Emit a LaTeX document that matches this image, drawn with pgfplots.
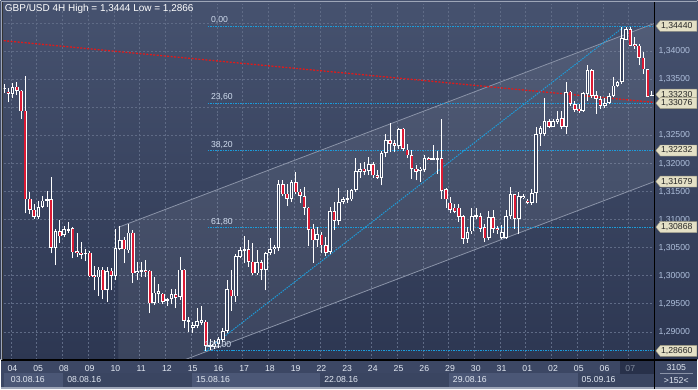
\documentclass[border=0pt]{standalone}
\usepackage{pgfplots}
\pgfplotsset{compat=1.18}
\usepackage{pgfplotstable}
\usepackage{fontspec}
\setmainfont{Liberation Sans}
\definecolor{bgtop}{HTML}{46526F}
\definecolor{bgbot}{HTML}{2D3752}
\definecolor{gridc}{HTML}{5F6B86}
\definecolor{candred}{HTML}{DC1A34}
\definecolor{hollow}{HTML}{38435F}
\definecolor{fibc}{HTML}{1C9CDA}
\definecolor{trendred}{HTML}{E01A1A}
\definecolor{chan}{HTML}{8A93A8}
\definecolor{ticktxt}{HTML}{AFC0DC}
\definecolor{fibtxt}{HTML}{D0DCEE}
\definecolor{striptop}{HTML}{3C4764}
\definecolor{boxlight}{HTML}{4B5776}
\definecolor{boxdark}{HTML}{3A4561}
\definecolor{tagfill}{HTML}{E4E0C6}
\definecolor{tagdraw}{HTML}{9A967E}
\definecolor{datetxt}{HTML}{E2E8F2}
\definecolor{cseven}{HTML}{7D8799}
\definecolor{darkbox}{HTML}{28314A}
\definecolor{topline}{HTML}{9EA6B8}
\newcommand{\fs}{\fontsize{8.7}{10}\selectfont}
\newcommand{\ptag}[2]{%
  \filldraw[fill=tagfill, draw=tagdraw, line width=0.4pt] (656.5,#1) -- (661,{#1+5.5}) -- (697.6,{#1+5.5}) -- (697.6,{#1-5.5}) -- (661,{#1-5.5}) -- cycle;
  \node[anchor=west, inner sep=0pt, font=\fs, text=black!85] at (661.5,#1) {#2};}

\pgfplotstableread{
k o h l c
1 1.3333 1.3341 1.3325 1.3334
2 1.3328 1.3335 1.3309 1.3324
3 1.3324 1.3343 1.3317 1.3337
4 1.3337 1.3346 1.3322 1.3330
5 1.3330 1.3331 1.3280 1.3293
6 1.3294 1.3356 1.3111 1.3136
7 1.3137 1.3150 1.3110 1.3118
8 1.3118 1.3127 1.3102 1.3105
9 1.3105 1.3134 1.3101 1.3123
10 1.3123 1.3142 1.3120 1.3134
11 1.3133 1.3151 1.3123 1.3136
12 1.3136 1.3176 1.3040 1.3050
13 1.3050 1.3083 1.3019 1.3080
14 1.3079 1.3099 1.3058 1.3070
15 1.3073 1.3089 1.3069 1.3083
16 1.3080 1.3095 1.3077 1.3083
17 1.3085 1.3087 1.3031 1.3042
18 1.3044 1.3077 1.3034 1.3041
19 1.3041 1.3060 1.3029 1.3037
20 1.3038 1.3047 1.3026 1.3041
21 1.3041 1.3044 1.2997 1.2999
22 1.3001 1.3017 1.2974 1.2997
23 1.2997 1.3015 1.2964 1.3011
24 1.3011 1.3015 1.2958 1.2974
25 1.2974 1.3015 1.2953 1.3009
26 1.3009 1.3013 1.2974 1.3000
27 1.2999 1.3083 1.2992 1.3050
28 1.3048 1.3089 1.3045 1.3064
29 1.3064 1.3069 1.3022 1.3047
30 1.3045 1.3093 1.3041 1.3077
31 1.3077 1.3081 1.2987 1.3004
32 1.3004 1.3025 1.2992 1.3008
33 1.3007 1.3025 1.2998 1.3010
34 1.3010 1.3028 1.2997 1.3007
35 1.3009 1.3010 1.2933 1.2951
36 1.2951 1.2997 1.2948 1.2970
37 1.2968 1.2985 1.2952 1.2973
38 1.2968 1.2970 1.2949 1.2953
39 1.2955 1.2961 1.2946 1.2958
40 1.2958 1.2976 1.2949 1.2967
41 1.2967 1.2977 1.2942 1.2961
42 1.2962 1.3033 1.2957 1.3011
43 1.3011 1.3012 1.2906 1.2920
44 1.2918 1.2927 1.2900 1.2921
45 1.2907 1.2918 1.2898 1.2912
46 1.2910 1.2942 1.2906 1.2919
47 1.2916 1.2946 1.2912 1.2921
48 1.2918 1.2921 1.2866 1.2875
49 1.2873 1.2888 1.2867 1.2876
50 1.2873 1.2885 1.2869 1.2879
51 1.2879 1.2890 1.2871 1.2887
52 1.2885 1.2906 1.2882 1.2902
53 1.2902 1.2992 1.2897 1.2977
54 1.2975 1.3010 1.2938 1.2963
55 1.2963 1.3038 1.2954 1.3035
56 1.3034 1.3051 1.3031 1.3046
57 1.3044 1.3070 1.3022 1.3047
58 1.3047 1.3063 1.3016 1.3025
59 1.3025 1.3058 1.3001 1.3004
60 1.3004 1.3046 1.3001 1.3024
61 1.3024 1.3028 1.2992 1.3011
62 1.3011 1.3043 1.2974 1.3040
63 1.3040 1.3068 1.3037 1.3047
64 1.3047 1.3054 1.3038 1.3051
65 1.3049 1.3170 1.3044 1.3163
66 1.3163 1.3170 1.3142 1.3145
67 1.3146 1.3164 1.3124 1.3137
68 1.3137 1.3171 1.3131 1.3167
69 1.3167 1.3185 1.3145 1.3149
70 1.3150 1.3155 1.3129 1.3142
71 1.3142 1.3159 1.3108 1.3121
72 1.3121 1.3122 1.3053 1.3082
73 1.3084 1.3092 1.3023 1.3063
74 1.3063 1.3087 1.3051 1.3075
75 1.3073 1.3078 1.3040 1.3054
76 1.3054 1.3069 1.3035 1.3041
77 1.3043 1.3122 1.3038 1.3115
78 1.3115 1.3131 1.3082 1.3098
79 1.3098 1.3157 1.3090 1.3131
80 1.3131 1.3140 1.3127 1.3136
81 1.3135 1.3152 1.3129 1.3138
82 1.3136 1.3155 1.3133 1.3153
83 1.3153 1.3210 1.3149 1.3187
84 1.3185 1.3201 1.3175 1.3190
85 1.3191 1.3203 1.3179 1.3185
86 1.3187 1.3212 1.3179 1.3199
87 1.3199 1.3203 1.3175 1.3179
88 1.3179 1.3189 1.3173 1.3175
89 1.3175 1.3223 1.3161 1.3219
90 1.3219 1.3253 1.3212 1.3242
91 1.3242 1.3272 1.3220 1.3235
92 1.3236 1.3242 1.3220 1.3232
93 1.3232 1.3264 1.3226 1.3262
94 1.3262 1.3263 1.3223 1.3226
95 1.3225 1.3235 1.3209 1.3215
96 1.3215 1.3225 1.3173 1.3191
97 1.3191 1.3197 1.3170 1.3185
98 1.3187 1.3194 1.3167 1.3191
99 1.3188 1.3215 1.3185 1.3210
100 1.3210 1.3212 1.3206 1.3207
101 1.3207 1.3233 1.3206 1.3209
102 1.3207 1.3222 1.3182 1.3210
103 1.3210 1.3280 1.3137 1.3151
104 1.3154 1.3156 1.3121 1.3136
105 1.3130 1.3140 1.3112 1.3117
106 1.3121 1.3127 1.3111 1.3114
107 1.3121 1.3127 1.3096 1.3105
108 1.3106 1.3108 1.3057 1.3066
109 1.3066 1.3087 1.3059 1.3078
110 1.3079 1.3120 1.3075 1.3106
111 1.3105 1.3120 1.3101 1.3108
112 1.3106 1.3111 1.3078 1.3084
113 1.3086 1.3093 1.3060 1.3067
114 1.3067 1.3115 1.3063 1.3104
115 1.3104 1.3117 1.3077 1.3084
116 1.3085 1.3088 1.3075 1.3081
117 1.3067 1.3091 1.3065 1.3078
118 1.3067 1.3117 1.3066 1.3106
119 1.3106 1.3158 1.3101 1.3145
120 1.3145 1.3146 1.3084 1.3102
121 1.3102 1.3149 1.3074 1.3142
122 1.3138 1.3146 1.3136 1.3142
123 1.3134 1.3137 1.3127 1.3130
124 1.3130 1.3154 1.3126 1.3147
125 1.3147 1.3265 1.3129 1.3253
126 1.3253 1.3267 1.3232 1.3264
127 1.3253 1.3316 1.3249 1.3275
128 1.3275 1.3279 1.3264 1.3266
129 1.3266 1.3280 1.3265 1.3275
130 1.3274 1.3293 1.3271 1.3280
131 1.3281 1.3294 1.3261 1.3266
132 1.3266 1.3346 1.3253 1.3328
133 1.3328 1.3330 1.3303 1.3306
134 1.3306 1.3312 1.3292 1.3296
135 1.3298 1.3306 1.3290 1.3293
136 1.3294 1.3327 1.3292 1.3326
137 1.3324 1.3376 1.3312 1.3366
138 1.3366 1.3368 1.3316 1.3321
139 1.3322 1.3330 1.3289 1.3315
140 1.3315 1.3321 1.3298 1.3303
141 1.3302 1.3316 1.3299 1.3308
142 1.3308 1.3326 1.3306 1.3321
143 1.3321 1.3354 1.3318 1.3339
144 1.3338 1.3348 1.3336 1.3345
145 1.3345 1.3444 1.3342 1.3423
146 1.3421 1.3444 1.3420 1.3440
147 1.3440 1.3443 1.3409 1.3410
148 1.3413 1.3425 1.3404 1.3409
149 1.3410 1.3413 1.3375 1.3389
150 1.3389 1.3398 1.3360 1.3368
151 1.3368 1.3368 1.3318 1.3319
152 1.3320 1.3330 1.3320 1.3323
}\candles

\begin{document}
\begin{tikzpicture}
\begin{scope}[x=1pt,y=1pt]
\path[use as bounding box] (0,0) rectangle (698,389);
\shade[top color=bgtop, bottom color=bgbot] (0,29) rectangle (698,389);
\fill[striptop] (0,0) rectangle (698,29);
\fill[boxlight] (3,2) rectangle (62,16);
\fill[boxdark] (62,2) rectangle (191.6,16);
\fill[boxlight] (191.6,2) rectangle (320,16);
\fill[boxdark] (320,2) rectangle (449,16);
\fill[boxlight] (449,2) rectangle (578,16);
\fill[boxdark] (578,2) rectangle (655,16);
\fill[darkbox] (621,15) rectangle (655,28);
\fill[topline] (0,0) rectangle (698,1.6);
\foreach \xx/\tt in {10/03.08.16, 66.5/08.08.16, 195.6/15.08.16, 324/22.08.16, 453/29.08.16, 582/05.09.16}
  \node[anchor=west, inner sep=0pt, font=\fs, text=datetxt] at (\xx,9.5) {\tt};
\end{scope}

\begin{axis}[
  at={(3pt,29pt)}, anchor=south west, scale only axis,
  width=652pt, height=357pt,
  xmin=0.93, xmax=152.56, ymin=1.28498, ymax=1.34849,
  axis line style={draw=none},
  clip=true,
  xtick={2.6,8.6,14.6,20.6,26.6,32.6,38.6,44.6,50.6,56.6,62.6,68.6,74.6,80.6,86.6,92.6,98.6,104.6,110.6,116.6,122.6,128.6,134.6,140.6,146.6},
  xticklabels={04,05,08,09,10,11,12,15,16,17,18,19,22,23,24,25,26,29,30,31,01,02,05,06,\textcolor{cseven}{07}},
  ytick={1.29,1.295,1.3,1.305,1.31,1.315,1.32,1.325,1.33,1.335,1.34,1.345},
  yticklabels={{1,29000},{1,29500},{1,30000},{1,30500},{1,31000},{1,31500},{1,32000},{1,32500},{},{1,33500},{1,34000},{}},
  yticklabel pos=right,
  grid=major,
  major grid style={gridc, line width=0.6pt, dash pattern=on 2pt off 2pt},
  major tick length=0pt,
  tick style={draw=none},
  xticklabel style={anchor=center, yshift=-8.5pt, xshift=1.5pt, inner sep=0pt, font=\fs, text=datetxt},
  yticklabel style={anchor=west, xshift=4pt, inner sep=0pt, font=\fs, text=ticktxt},
]
% channel
\addplot[draw=none, fill=white, fill opacity=0.07] coordinates {(27.67,1.30864) (152.56,1.34498) (152.56,1.31679) (27.67,1.28053)} -- cycle;
\addplot[chan, line width=0.8pt] coordinates {(27.67,1.30864) (152.56,1.34498)};
\addplot[chan, line width=0.8pt] coordinates {(27.67,1.28053) (152.56,1.31679)};
% red trend line
\addplot[trendred, line width=1.3pt, dash pattern=on 2pt off 1.5pt] coordinates {(0.93,1.3419) (152.56,1.3309)};
% fibonacci levels
\addplot[fibc, line width=1pt, dash pattern=on 1.5pt off 1pt] coordinates {(48.5,1.3444) (152.56,1.3444)};
\addplot[fibc, line width=1pt, dash pattern=on 1.5pt off 1pt] coordinates {(48.5,1.33076) (152.56,1.33076)};
\addplot[fibc, line width=1pt, dash pattern=on 1.5pt off 1pt] coordinates {(48.5,1.32232) (152.56,1.32232)};
\addplot[fibc, line width=1pt, dash pattern=on 1.5pt off 1pt] coordinates {(48.5,1.30868) (152.56,1.30868)};
\addplot[fibc, line width=1pt, dash pattern=on 1.5pt off 1pt] coordinates {(47.5,1.2866) (152.56,1.2866)};
\addplot[fibc, line width=1pt, dash pattern=on 1.5pt off 1pt] coordinates {(48,1.2866) (145.5,1.3444)};
% candles
\addplot[white, line width=0.9pt, quiver={u=0, v=\thisrow{h}-\thisrow{l}}] table[x=k, y=l] {\candles};
\addplot[white, line width=3.6pt, quiver={u=0, v=\thisrow{c}-\thisrow{o}}] table[x=k, y=o] {\candles};
\addplot[hollow, line width=1.6pt, shorten <=0.9pt, shorten >=0.9pt, quiver={u=0, v=\thisrow{c}-\thisrow{o}},
  restrict expr to domain={\thisrow{c}-\thisrow{o}}{0.0004:1}] table[x=k, y=o] {\candles};
\addplot[candred, line width=2pt, shorten <=0.6pt, shorten >=0.6pt, quiver={u=0, v=\thisrow{c}-\thisrow{o}},
  restrict expr to domain={\thisrow{o}-\thisrow{c}}{0.00022:1}] table[x=k, y=o] {\candles};
% fib labels
\node[anchor=west, inner sep=0pt, font=\fs, text=fibtxt, yshift=6.3pt] at (axis cs:49.2,1.3444) {0,00};
\node[anchor=west, inner sep=0pt, font=\fs, text=fibtxt, yshift=6.3pt] at (axis cs:49.2,1.33076) {23,60};
\node[anchor=west, inner sep=0pt, font=\fs, text=fibtxt, yshift=5.5pt] at (axis cs:49.2,1.32232) {38,20};
\node[anchor=west, inner sep=0pt, font=\fs, text=fibtxt, yshift=5.5pt] at (axis cs:49.2,1.30868) {61,80};
\node[anchor=west, inner sep=0pt, font=\fs, text=fibtxt, yshift=6pt] at (axis cs:47.7,1.2866) {100,00};
\end{axis}

\begin{scope}[x=1pt,y=1pt]
\draw[black, line width=1.5pt] (0,29) -- (698,29);
\draw[black, line width=1.5pt] (655,0) -- (655,389);
\fill[topline] (0,387.4) rectangle (698,389);
\fill[topline] (0,29) rectangle (0.8,389);
\fill[black!80] (0.8,29) rectangle (2.4,387.4);
\node[anchor=west, inner sep=0pt, font=\fontsize{10}{12}\selectfont, text=white] at (4,380.8) {GBP/USD 4H  High = 1,3444 Low = 1,2866};
\ptag{363.7}{1,34440}
\ptag{295.0}{1,33230}
\ptag{286.4}{1,33076}
\ptag{238.9}{1,32232}
\ptag{207.8}{1,31679}
\ptag{162.2}{1,30868}
\ptag{38.1}{1,28660}
\node[inner sep=0pt, font=\fs, text=datetxt] at (677,21) {3105};
\draw[chan, line width=0.6pt] (661,15.6) -- (694,15.6);
\node[inner sep=0pt, font=\fs, text=datetxt] at (677,8.6) {>152<};
\end{scope}
\end{tikzpicture}
\end{document}
